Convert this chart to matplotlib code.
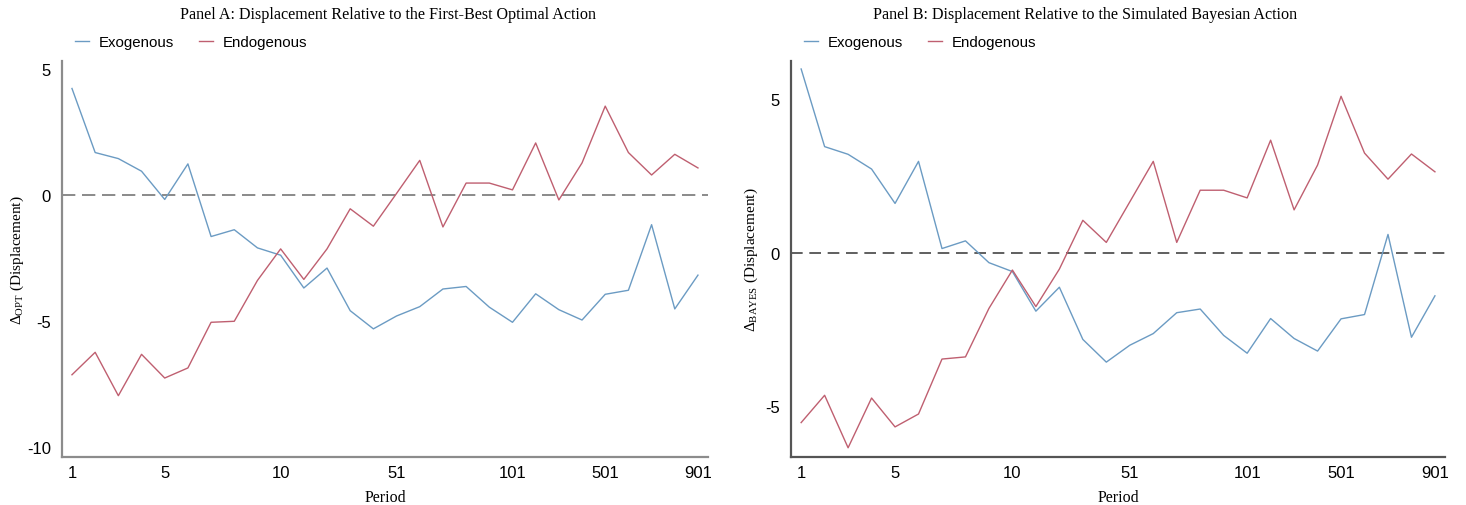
import numpy as np
import matplotlib
matplotlib.use("Agg")
import matplotlib.pyplot as plt

# ----------------------------------
# Data
# ----------------------------------
periods = [1, 2, 3, 4, 5, 6, 7, 8, 9, 10,
           11, 21, 31, 41, 51, 61, 71, 81, 91, 101,
           201, 301, 401, 501, 601, 701, 801, 901]
tick_periods = [1, 5, 10, 51, 101, 501, 901]

opt_exog = [4.21, 1.67, 1.43, 0.93, -0.19, 1.22, -1.66, -1.39, -2.11, -2.40,
            -3.70, -2.91, -4.60, -5.32, -4.81, -4.44, -3.74, -3.64, -4.46, -5.06,
            -3.93, -4.56, -4.97, -3.95, -3.79, -1.19, -4.53, -3.19]
opt_endo = [-7.14, -6.25, -7.97, -6.33, -7.27, -6.87, -5.06, -5.02, -3.40, -2.15,
            -3.36, -2.15, -0.56, -1.25, 0.05, 1.36, -1.28, 0.46, 0.46, 0.19,
            2.05, -0.21, 1.26, 3.51, 1.67, 0.78, 1.60, 1.06]

bayes_exog = [5.98, 3.45, 3.20, 2.72, 1.60, 2.97, 0.13, 0.38, -0.33, -0.62,
              -1.91, -1.13, -2.83, -3.57, -3.02, -2.64, -1.96, -1.84, -2.70, -3.28,
              -2.15, -2.80, -3.21, -2.16, -2.02, 0.59, -2.76, -1.41]
bayes_endo = [-5.54, -4.65, -6.36, -4.74, -5.68, -5.26, -3.47, -3.40, -1.82, -0.57,
              -1.76, -0.54, 1.05, 0.33, 1.65, 2.97, 0.33, 2.03, 2.03, 1.78,
              3.66, 1.39, 2.85, 5.09, 3.24, 2.39, 3.21, 2.63]

BLUE = "#6b9bc3"
RED = "#bf5f70"

plt.rcParams["font.family"] = ["Liberation Sans", "DejaVu Sans"]
plt.rcParams["mathtext.fontset"] = "custom"
plt.rcParams["mathtext.rm"] = "Liberation Serif"
plt.rcParams["mathtext.it"] = "Liberation Serif:italic"

SERIF = ["Liberation Serif", "DejaVu Serif"]


def draw_panel(ax, exog, endo, ylabel, ylim, yticks, spine_col, zero_col, dash, ylab_x):
    x = np.arange(len(periods))
    ax.plot(x, exog, color=BLUE, lw=1.0, label="Exogenous")
    ax.plot(x, endo, color=RED, lw=1.0, label="Endogenous")
    ax.axhline(0, color=zero_col, lw=1.2, ls=(0, dash), zorder=0)

    ax.set_xlim(-0.43, len(periods) - 1 + 0.43)
    ax.set_ylim(*ylim)
    ax.set_xticks([periods.index(p) for p in tick_periods])
    ax.set_xticklabels([str(p) for p in tick_periods])
    ax.set_yticks(yticks)
    ax.set_yticklabels([str(t) for t in yticks])
    ax.tick_params(axis="y", length=0, labelsize=12, pad=8)
    ax.tick_params(axis="x", length=0, labelsize=12, pad=6)

    for s in ["top", "right"]:
        ax.spines[s].set_visible(False)
    for s in ["left", "bottom"]:
        ax.spines[s].set_color(spine_col)
        ax.spines[s].set_linewidth(1.6)

    ax.set_xlabel("Period", family=SERIF, fontsize=11.5, labelpad=6)
    ax.set_ylabel(ylabel, family=SERIF, fontsize=11)
    ax.yaxis.set_label_coords(ylab_x, 0.5)

    ax.legend(loc="center left", bbox_to_anchor=(0.011, 1.047), ncol=2,
              frameon=False, handlelength=0.95, handletextpad=0.6,
              columnspacing=1.7, fontsize=10.8, borderaxespad=0)


fig = plt.figure(figsize=(14.66, 5.06), dpi=100)
ax_a = fig.add_axes([0.0423, 0.0949, 0.4406, 0.7826])
ax_b = fig.add_axes([0.5396, 0.0949, 0.4461, 0.7826])

draw_panel(ax_a, opt_exog, opt_endo,
           r"$\Delta_{\mathrm{OPT}}$ (Displacement)",
           (-10.4, 5.3), [5, 0, -5, -10], "#8c8c8c", "#777777", (8, 4), -0.055)
draw_panel(ax_b, bayes_exog, bayes_endo,
           r"$\Delta_{\mathrm{BAYES}}$ (Displacement)",
           (-6.66, 6.24), [5, 0, -5], "#555555", "#444444", (7, 4), -0.047)

fig.text(0.265, 0.97, "Panel A: Displacement Relative to the First-Best Optimal Action",
         family=SERIF, fontsize=11.6, ha="center", va="center")
fig.text(0.740, 0.97, "Panel B: Displacement Relative to the Simulated Bayesian Action",
         family=SERIF, fontsize=11.6, ha="center", va="center")

fig.savefig("out.png", dpi=100)
